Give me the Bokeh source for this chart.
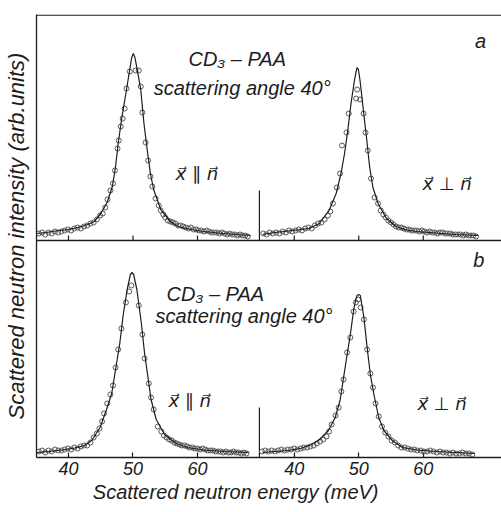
import numpy as np
from bokeh.plotting import figure
from bokeh.models import Range1d, Span, Label, FixedTicker, CustomJSTickFormatter
from bokeh.embed import file_html
from bokeh.resources import INLINE

# ---------------- data (energy in meV, intensity in arb. units) ----------------
# panel a, x || n
a_par_curve_e = [35.1, 36.5, 38.0, 40.0, 41.5, 43.0, 44.0, 45.0, 46.0, 46.8,
                 47.3, 47.7, 48.3, 49.0, 49.5, 49.8, 50.05, 50.3, 50.65, 51.2,
                 51.7, 52.2, 52.7, 53.2, 54.3, 55.8, 57.0, 59.0, 61.0, 64.0,
                 66.0, 68.2]
a_par_curve_i = [7, 8, 9.5, 11, 13, 16, 19, 27, 38, 54,
                 74, 97, 124, 151, 171, 183, 187, 183, 171, 151,
                 117, 91, 67, 51, 31, 19, 14, 11, 9, 7,
                 6, 5]
a_par_pts_e = [35.4, 35.9, 36.4, 36.9, 37.4, 37.9, 38.4, 38.9, 39.4, 39.9,
               40.4, 40.9, 41.4, 41.9, 42.4, 42.9, 43.4, 43.9, 44.4, 44.9,
               45.3, 45.7, 46.05, 46.5, 46.9, 47.2, 47.6, 47.8, 48.1, 48.4,
               48.7, 49.0, 49.5, 50.4, 50.9, 51.2, 51.45, 51.95, 52.35, 52.7,
               53.0, 53.5, 54.0, 54.3, 54.7, 55.0, 55.4, 55.8, 56.2, 56.6,
               57.0, 57.4, 57.8, 58.2, 58.6, 59.0, 59.4, 59.8, 60.2, 60.6,
               61.0, 61.4, 61.8, 62.2, 62.6, 63.0, 63.4, 63.8, 64.2, 64.6,
               65.0, 65.4, 65.8, 66.2, 66.6, 67.0, 67.4, 67.8]
a_par_pts_i = [7, 8, 6, 8, 7, 9, 8, 9, 10, 11,
               10, 12, 13, 12, 14, 15, 17, 18, 21, 25,
               27, 33, 41, 50, 57, 70, 92, 100, 114, 122,
               132, 152, 169, 170, 170, 154, 128, 98, 80, 64,
               54, 42, 35, 30, 26, 23, 20, 19, 18, 17,
               15, 15, 14, 13, 12, 13, 11, 11, 10, 10,
               9, 10, 9, 8, 8, 8, 7, 8, 7, 6,
               7, 6, 6, 5, 6, 5, 5, 4]

# panel a, x perpendicular n
a_perp_curve_e = [35.1, 37.0, 39.0, 41.0, 42.3, 43.9, 45.4, 46.5, 47.25, 47.8,
                  48.3, 48.8, 49.33, 49.6, 49.75, 49.95, 50.2, 50.6, 51.2, 51.7,
                  52.2, 53.0, 54.3, 55.8, 57.1, 59.0, 62.0, 65.0, 68.5]
a_perp_curve_i = [6, 8, 9.5, 11, 12, 17, 30, 47, 67, 87,
                  110, 137, 160, 169, 173, 171, 160, 137, 103, 73,
                  53, 37, 22, 14, 11, 9, 7.5, 6, 5]
a_perp_pts_e = [35.2, 35.7, 36.2, 36.7, 37.2, 37.7, 38.2, 38.7, 39.2, 39.7,
                40.2, 40.7, 41.2, 41.7, 42.2, 42.7, 43.2, 43.7, 44.2, 44.7,
                45.2, 45.6, 46.0, 46.6, 47.1, 47.4, 48.1, 48.45, 49.6, 49.75,
                50.2, 50.75, 51.05, 51.4, 51.9, 52.45, 53.0, 53.4, 53.8, 54.2,
                54.6, 55.0, 55.4, 55.8, 56.2, 56.6, 57.0, 57.4, 57.8, 58.2,
                58.6, 59.0, 59.4, 59.8, 60.2, 60.6, 61.0, 61.4, 61.8, 62.2,
                62.6, 63.0, 63.4, 63.8, 64.2, 64.6, 65.0, 65.4, 65.8, 66.2,
                66.6, 67.0, 67.4, 67.8, 68.2]
a_perp_pts_i = [7, 6, 8, 7, 8, 7, 9, 8, 10, 9,
                10, 11, 10, 12, 13, 12, 15, 17, 18, 21,
                25, 29, 37, 53, 67, 95, 108, 127, 142, 151,
                141, 127, 108, 90, 62, 43, 37, 30, 26, 23,
                20, 18, 16, 14, 13, 13, 12, 11, 11, 10,
                10, 10, 9, 10, 9, 8, 9, 8, 8, 7,
                8, 8, 7, 7, 7, 6, 6, 6, 6, 5,
                6, 5, 5, 5, 4]

# panel b, x || n
b_par_curve_e = [35.1, 37.0, 39.0, 41.0, 42.5, 43.6, 44.9, 45.9, 46.7, 47.3,
                 47.95, 48.45, 49.1, 49.6, 49.85, 50.1, 50.6, 51.3, 51.8, 52.3,
                 52.8, 53.6, 54.9, 56.7, 58.5, 61.0, 64.0, 68.0]
b_par_curve_i = [5, 6, 7.5, 9.5, 12, 17, 30, 48, 64, 88,
                 114, 141, 168, 183, 185, 183, 168, 134, 104, 81,
                 58, 38, 23, 14, 10, 7.5, 6, 5]
b_par_pts_e = [35.4, 35.9, 36.4, 36.9, 37.4, 37.9, 38.4, 38.9, 39.4, 39.9,
               40.4, 40.9, 41.4, 41.9, 42.4, 42.9, 43.4, 43.9, 44.4, 44.8,
               45.2, 45.5, 46.0, 46.5, 46.9, 47.3, 47.7, 48.2, 48.9, 49.4,
               49.75, 50.9, 51.45, 51.8, 52.45, 52.8, 53.2, 53.85, 54.4, 54.8,
               55.2, 55.6, 56.0, 56.4, 56.8, 57.2, 57.6, 58.0, 58.4, 58.8,
               59.2, 59.6, 60.0, 60.4, 60.8, 61.2, 61.6, 62.0, 62.4, 62.8,
               63.2, 63.6, 64.0, 64.4, 64.8, 65.2, 65.6, 66.0, 66.4, 66.8,
               67.2, 67.6]
b_par_pts_i = [6, 7, 5, 7, 6, 8, 7, 7, 8, 9,
               8, 10, 9, 11, 12, 12, 15, 20, 24, 29,
               36, 44, 54, 63, 72, 90, 108, 129, 155, 166,
               172, 152, 123, 99, 74, 60, 48, 31, 26, 22,
               20, 18, 17, 15, 14, 13, 12, 12, 11, 10,
               10, 9, 9, 8, 9, 8, 7, 7, 7, 6,
               6, 6, 5, 6, 5, 5, 6, 5, 5, 4,
               5, 4]

# panel b, x perpendicular n
b_perp_curve_e = [35.1, 37.0, 39.0, 41.0, 42.7, 43.75, 45.3, 46.35, 47.1, 47.65,
                  48.2, 48.7, 49.2, 49.5, 49.75, 50.0, 50.25, 50.8, 51.3, 51.8,
                  52.35, 53.1, 53.9, 55.2, 56.8, 59.0, 62.0, 65.0, 68.0]
b_perp_curve_i = [5, 6, 7, 9, 13, 17, 27, 40, 57, 80,
                  103, 123, 147, 157, 162, 163, 162, 140, 110, 83,
                  63, 40, 27, 17, 10, 7.5, 6, 5, 4]
b_perp_pts_e = [35.0, 35.5, 36.0, 36.5, 37.0, 37.5, 38.0, 38.5, 39.0, 39.5,
                40.0, 40.5, 41.0, 41.5, 42.0, 42.5, 43.0, 43.5, 44.0, 44.5,
                45.0, 45.4, 45.8, 46.4, 46.9, 47.3, 47.65, 48.2, 48.7, 49.2,
                49.55, 49.9, 50.3, 50.8, 51.3, 51.8, 52.2, 52.6, 53.1, 53.6,
                54.1, 54.6, 55.1, 55.6, 56.1, 56.6, 57.1, 57.6, 58.1, 58.6,
                59.1, 59.6, 60.1, 60.6, 61.1, 61.6, 62.1, 62.6, 63.1, 63.6,
                64.1, 64.6, 65.1, 65.6, 66.1, 66.6, 67.1, 67.6]
b_perp_pts_i = [6, 7, 6, 7, 6, 7, 8, 7, 8, 8,
                9, 8, 9, 10, 10, 11, 12, 14, 16, 18,
                21, 26, 33, 42, 50, 66, 78, 105, 120, 146,
                155, 158, 150, 138, 108, 84, 70, 54, 41, 31,
                25, 21, 17, 15, 12, 10, 10, 9, 8, 8,
                7, 7, 6, 6, 7, 6, 5, 6, 5, 5,
                4, 5, 4, 4, 5, 4, 4, 3]

tick_values = [40, 50, 60]
panel_names = ["a", "b"]

# ---------------- layout constants ----------------
R_OFF = 35.0          # horizontal shift of the right-hand spectra
A_OFF = 217.0         # vertical shift of panel a
SEP_E = 34.6          # energy at which the right-hand spectra start
PX_PER_MEV = 6.45
X0 = 35.04
W, H = 501, 510
ML, MT = 36, 14
MB = H - 457
frame_w = W - ML
frame_h = H - MT - MB
X1 = X0 + frame_w / PX_PER_MEV

INK = "#1c1c1c"
PT = "#555555"
FONT = "Liberation Sans"

p = figure(width=W, height=H, output_backend="svg", toolbar_location=None,
           x_range=Range1d(X0, X1), y_range=Range1d(0, frame_h),
           min_border_left=ML, min_border_right=0, min_border_top=MT,
           min_border_bottom=MB, background_fill_color="white",
           border_fill_color="white")
p.outline_line_color = None
p.xgrid.visible = False
p.ygrid.visible = False

all_ticks = tick_values + [t + R_OFF for t in tick_values]

# bottom axis
xa = p.xaxis[0]
xa.ticker = FixedTicker(ticks=all_ticks)
xa.formatter = CustomJSTickFormatter(args=dict(off=R_OFF),
                                     code="return (tick > 70 ? tick - off : tick).toFixed(0);")
xa.major_tick_in = 5
xa.major_tick_out = 0
xa.minor_tick_line_color = None
xa.axis_line_color = INK
xa.axis_line_width = 1.3
xa.major_tick_line_color = INK
xa.major_tick_line_width = 1.2
xa.major_label_standoff = 4
xa.major_label_text_font = FONT
xa.major_label_text_font_style = "italic"
xa.major_label_text_font_size = "18px"
xa.major_label_text_color = INK
# trailing no-break spaces shift the centred title left, as in the original
xa.axis_label = "Scattered neutron energy (meV)" + "\u00a0" * 12
xa.axis_label_standoff = 3
xa.axis_label_text_font = FONT
xa.axis_label_text_font_style = "italic"
xa.axis_label_text_font_size = "20px"
xa.axis_label_text_color = INK

# left axis: the line and the title
ya = p.yaxis[0]
ya.ticker = FixedTicker(ticks=[])
ya.minor_tick_line_color = None
ya.major_tick_line_color = None
ya.axis_line_color = INK
ya.axis_line_width = 1.3
ya.axis_label = "Scattered neutron intensity (arb.units)"
ya.axis_label_standoff = 8
ya.axis_label_text_font = FONT
ya.axis_label_text_font_style = "italic"
ya.axis_label_text_font_size = "22px"
ya.axis_label_text_color = INK

# frame lines
p.add_layout(Span(location=frame_h - 0.6, dimension="width", line_color=INK, line_width=1.3))
p.add_layout(Span(location=A_OFF, dimension="width", line_color=INK, line_width=1.3))

# tick marks on panel a baseline and the separators between the two spectra
p.segment(x0=all_ticks, y0=[A_OFF] * len(all_ticks), x1=all_ticks,
          y1=[A_OFF + 5] * len(all_ticks), line_color=INK, line_width=1.2)
sx = SEP_E + R_OFF
p.segment(x0=[sx, sx], y0=[0, A_OFF], x1=[sx, sx], y1=[50, A_OFF + 50],
          line_color=INK, line_width=1.2)

def draw(curve_e, curve_i, pts_e, pts_i, dx, dy):
    ce = np.array(curve_e) + dx
    ci = np.array(curve_i) + dy
    pe = np.array(pts_e) + dx
    pi = np.array(pts_i) + dy
    p.scatter(pe, pi, marker="circle", size=5, fill_color=None,
              line_color=PT, line_width=1.0)
    p.line(ce, ci, line_color=INK, line_width=1.2)

draw(a_par_curve_e, a_par_curve_i, a_par_pts_e, a_par_pts_i, 0, A_OFF)
draw(a_perp_curve_e, a_perp_curve_i, a_perp_pts_e, a_perp_pts_i, R_OFF, A_OFF)
draw(b_par_curve_e, b_par_curve_i, b_par_pts_e, b_par_pts_i, 0, 0)
draw(b_perp_curve_e, b_perp_curve_i, b_perp_pts_e, b_perp_pts_i, R_OFF, 0)

def lab(text, x, y, size="20px", align="left", font=FONT):
    p.add_layout(Label(x=x, y=y, text=text, text_font=font,
                       text_font_style="italic", text_font_size=size,
                       text_color=INK, text_align=align, text_baseline="middle"))

lab("CD\u2083 \u2013 PAA", 58.6, 399)
lab("scattering angle 40\u00b0", 53.2, 370)
lab("x\u20d7 \u2225 n\u20d7", 56.6, 284, size="18px", font="DejaVu Sans")
lab("x\u20d7 \u22a5 n\u20d7", 94.9, 274, size="18px", font="DejaVu Sans")
lab(panel_names[0], 103.9, 417, size="20px", align="center")

lab("CD\u2083 \u2013 PAA", 55.2, 164)
lab("scattering angle 40\u00b0", 53.5, 142)
lab("x\u20d7 \u2225 n\u20d7", 55.5, 57, size="18px", font="DejaVu Sans")
lab("x\u20d7 \u22a5 n\u20d7", 94.1, 54, size="18px", font="DejaVu Sans")
lab(panel_names[1], 103.6, 198, size="20px", align="center")

open("out.html", "w").write(file_html(p, INLINE))
